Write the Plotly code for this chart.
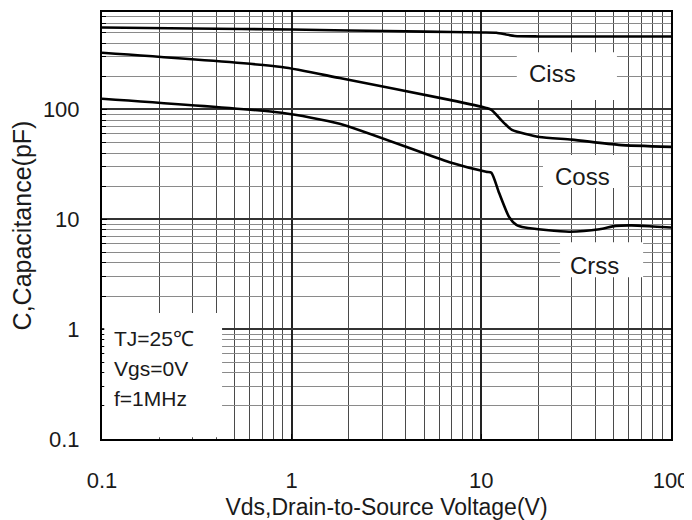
import plotly.graph_objects as go

# ---- data ----
ciss_v = [0.1, 0.3, 1, 2, 5, 10, 12, 13.5, 15, 20, 50, 100]
ciss_c = [556, 545, 533, 522, 510, 501, 498, 480, 465, 461, 461, 461]

coss_v = [0.1, 0.885, 1.79, 6.8, 10.6, 11.3, 13.2, 14.5, 20.2, 30, 53, 100]
coss_c = [327, 243, 193, 122, 103, 99, 75, 65, 56, 53, 47.5, 45.6]

crss_v = [0.1, 0.885, 1.79, 6.8, 10.6, 11.3, 12.4, 14, 15.3, 17, 29, 42, 51, 62, 80, 100]
crss_c = [125, 93, 74, 33, 27, 26.5, 17.4, 10.5, 8.9, 8.4, 7.7, 8.1, 8.7, 8.8, 8.6, 8.4]

x_ticks = [0.1, 1, 10, 100]
x_ticktext = ["0.1", "1", "10", "100"]
y_ticks = [0.1, 1, 10, 100]
y_ticktext = ["0.1", "1", "10", "100"]

series_names = ["Ciss", "Coss", "Crss"]
cond_lines = ["TJ=25\u2103", "Vgs=0V", "f=1MHz"]

FONT = "Liberation Sans, Arial, sans-serif"
TXT = "#1a1a1a"

minor_x = [m * 10 ** e for e in (-1, 0, 1) for m in range(2, 10)]
minor_y = [m * 10 ** e for e in (-1, 0, 1, 2) for m in range(2, 10)]

fig = go.Figure()
for v, c, n in [(ciss_v, ciss_c, "Ciss"), (coss_v, coss_c, "Coss"), (crss_v, crss_c, "Crss")]:
    fig.add_trace(go.Scatter(x=v, y=c, mode="lines", name=n,
                             line=dict(color="black", width=2.6, shape="spline", smoothing=0.6),
                             showlegend=False))

# the page body has an 8px margin, so the figure is drawn 8px in and down
fig.update_layout(
    width=684, height=512,
    margin=dict(l=94, r=21, t=4, b=81, autoexpand=False),
    paper_bgcolor="white", plot_bgcolor="white",
    font=dict(family=FONT, color=TXT),
)

fig.update_xaxes(
    type="log", range=[-1, 2], automargin=False,
    tickmode="array", tickvals=x_ticks, ticktext=x_ticktext,
    tickfont=dict(size=22, family=FONT, color=TXT),
    ticks="inside", ticklen=5, tickcolor="black",
    ticklabelstandoff=21,
    showgrid=True, gridcolor="#222", gridwidth=1.6,
    minor=dict(tickmode="array", tickvals=minor_x, showgrid=True,
               gridcolor="#4a4a4a", gridwidth=1.3, ticks=""),
    showline=True, linecolor="black", linewidth=2, mirror=True,
    zeroline=False,
    title=dict(text="Vds,Drain-to-Source Voltage(V)", font=dict(size=23, family=FONT, color=TXT), standoff=10),
)
fig.update_yaxes(
    type="log", range=[-1, 2.886], automargin=False,
    tickmode="array", tickvals=y_ticks, ticktext=y_ticktext,
    tickfont=dict(size=22, family=FONT, color=TXT),
    ticks="inside", ticklen=5, tickcolor="black",
    ticklabelstandoff=16,
    showgrid=True, gridcolor="#333", gridwidth=1.8,
    minor=dict(tickmode="array", tickvals=minor_y, showgrid=True,
               gridcolor="#8a8a8a", gridwidth=1.2, ticks="inside", ticklen=4, tickcolor="black"),
    showline=True, linecolor="black", linewidth=2, mirror=True,
    zeroline=False,
    title=dict(text="C,Capacitance(pF)", font=dict(size=25, family=FONT, color=TXT), standoff=8),
)

# white boxes behind labels
boxes = [
    (0.729, 0.905, 0.794, 0.906),
    (0.775, 0.924, 0.588, 0.665),
    (0.805, 0.951, 0.379, 0.461),
    (0.004, 0.211, 0.004, 0.295),
]
for x0, x1, y0, y1 in boxes:
    fig.add_shape(type="rect", xref="paper", yref="paper", x0=x0, x1=x1, y0=y0, y1=y1,
                  fillcolor="white", line=dict(width=0), layer="above")

label_pos = [(0.791, 0.857), (0.844, 0.614), (0.865, 0.407)]
for name, (px, py) in zip(series_names, label_pos):
    fig.add_annotation(text=name, xref="paper", yref="paper", x=px, y=py,
                       showarrow=False, font=dict(size=24, family=FONT, color=TXT),
                       xanchor="center", yanchor="middle")

cond_y = [0.2365, 0.164, 0.0937]
for t, py in zip(cond_lines, cond_y):
    fig.add_annotation(text=t, xref="paper", yref="paper", x=0.0176, y=py,
                       showarrow=False, font=dict(size=21, family=FONT, color=TXT),
                       xanchor="left", yanchor="middle")

fig.write_html("out.html")
